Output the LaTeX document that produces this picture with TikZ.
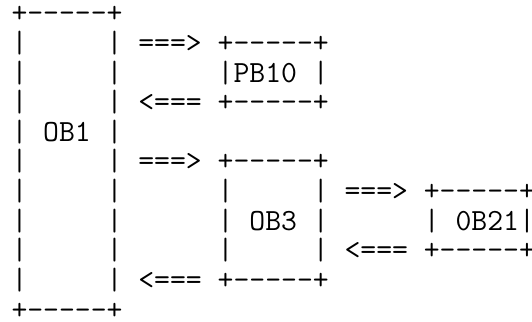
\documentclass[tikz,border=0pt]{standalone}
\begin{document}
% box edge "+-----+" with the dashes kept apart (no dash ligatures)
\newcommand\edgeseg{+-{}-{}-{}-{}-{}+}
\tikzset{
  asciirow/.style={anchor=base west, inner sep=0pt, outer sep=0pt,
    font=\ttfamily\fontsize{30.8}{30}\selectfont, text=black},
}
\begin{tikzpicture}[x=1pt,y=1pt]
  \useasboundingbox (0,0) rectangle (532,321);
  \clip (0,0) rectangle (532,321);
  \fill[white] (0,0) rectangle (532,321);
  % one text row every 29.6pt, first baseline 23pt below the top
  \def\rowy#1{321-23-29.6*(#1-1)}
  \node[asciirow] (r1)  at (11.5,{\rowy{1}})  {\edgeseg};
  \node[asciirow] (r2)  at (11.5,{\rowy{2}})  {|~~~~~|~===>~\edgeseg};
  \node[asciirow] (r3)  at (11.5,{\rowy{3}})  {|~~~~~|~~~~~~|PB10~|};
  \node[asciirow] (r4)  at (11.5,{\rowy{4}})  {|~~~~~|~<===~\edgeseg};
  \node[asciirow] (r5)  at (11.5,{\rowy{5}})  {|~OB1~|};
  \node[asciirow] (r6)  at (11.5,{\rowy{6}})  {|~~~~~|~===>~\edgeseg};
  \node[asciirow] (r7)  at (11.5,{\rowy{7}})  {|~~~~~|~~~~~~|~~~~~|~===>~\edgeseg};
  \node[asciirow] (r8)  at (11.5,{\rowy{8}})  {|~~~~~|~~~~~~|~OB3~|~~~~~~|~0B21|};
  \node[asciirow] (r9)  at (11.5,{\rowy{9}})  {|~~~~~|~~~~~~|~~~~~|~<===~\edgeseg};
  \node[asciirow] (r10) at (11.5,{\rowy{10}}) {|~~~~~|~<===~\edgeseg};
  \node[asciirow] (r11) at (11.5,{\rowy{11}}) {\edgeseg};
\end{tikzpicture}
\end{document}
